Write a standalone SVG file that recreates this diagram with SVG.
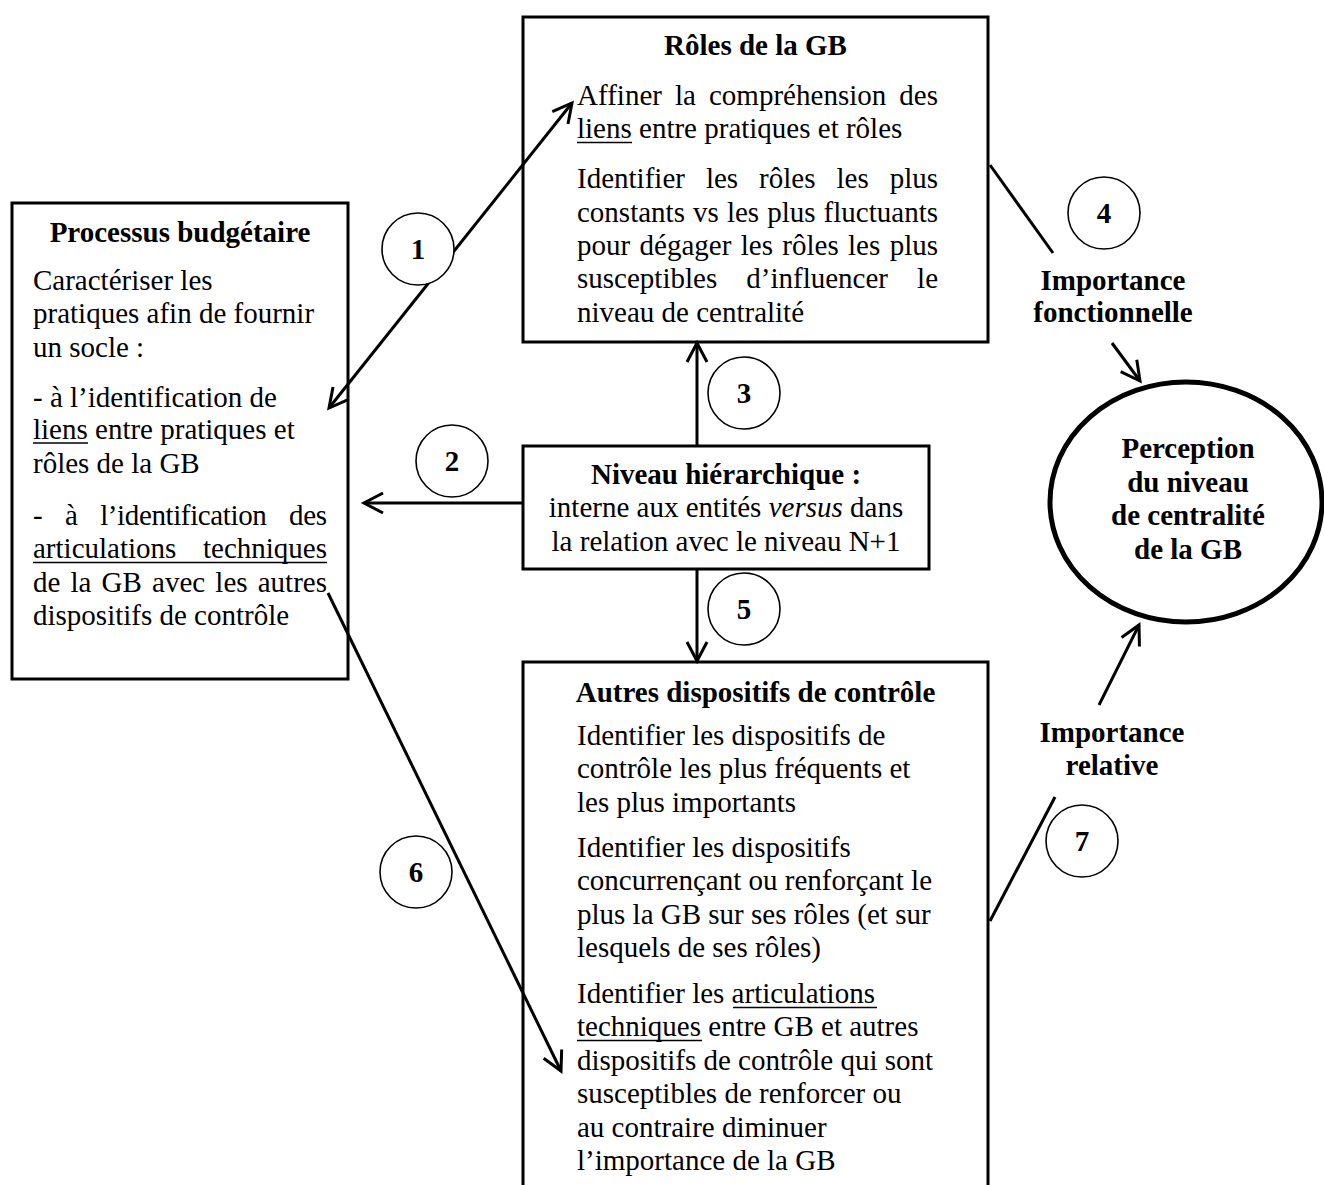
<svg xmlns="http://www.w3.org/2000/svg" width="1324" height="1185" viewBox="0 0 1324 1185">
<style>
.t{font-family:"Liberation Serif","Times New Roman",serif;font-size:29px;fill:#000}
.b{font-weight:bold}
.c{text-anchor:middle}
.box{fill:#fff;stroke:#000;stroke-width:3}
.ell{fill:#fff;stroke:#000;stroke-width:5}
.num{fill:#fff;stroke:#000;stroke-width:1.6}
.ln{stroke:#000;stroke-width:3;fill:none}
.ul{stroke:#000;stroke-width:1.5}
</style>
<defs>
<marker id="ah" markerUnits="userSpaceOnUse" markerWidth="30" markerHeight="30" viewBox="-24 -15 30 30" refX="0" refY="0" orient="auto-start-reverse" overflow="visible">
<path d="M-19,-10 L0,0 L-19,10" fill="none" stroke="#000" stroke-width="3"/>
</marker>
</defs>
<rect width="1324" height="1185" fill="#fff"/>

<g id="node-roles">
<rect class="box" x="523" y="17" width="465" height="325"/>
<text class="t b c" x="755.5" y="55">Rôles de la GB</text>
<text class="t" x="577" y="105" word-spacing="5.7" textLength="361">Affiner la compréhension des</text>
<text class="t" x="577" y="138">liens entre pratiques et rôles</text>
<line class="ul" x1="577" y1="142.5" x2="632" y2="142.5"/>
<text class="t" x="577" y="188" word-spacing="13.7" textLength="361">Identifier les rôles les plus</text>
<text class="t" x="577" y="222" word-spacing="0.8" textLength="361">constants vs les plus fluctuants</text>
<text class="t" x="577" y="255" word-spacing="2.1" textLength="361">pour dégager les rôles les plus</text>
<text class="t" x="577" y="288" word-spacing="21.8" textLength="361">susceptibles d’influencer le</text>
<text class="t" x="577" y="322">niveau de centralité</text>
</g>

<g id="node-processus">
<rect class="box" x="12" y="203" width="336" height="476"/>
<text class="t b c" x="180" y="242">Processus budgétaire</text>
<text class="t" x="33" y="290">Caractériser les</text>
<text class="t" x="33" y="323">pratiques afin de fournir</text>
<text class="t" x="33" y="357">un socle :</text>
<text class="t" x="33" y="407">- à l’identification de</text>
<text class="t" x="33" y="439">liens entre pratiques et</text>
<line class="ul" x1="33" y1="443" x2="88" y2="443"/>
<text class="t" x="33" y="473">rôles de la GB</text>
<text class="t" x="33" y="525" word-spacing="15.8" textLength="294">- à l’identification des</text>
<text class="t" x="33" y="558" word-spacing="19.3" textLength="294">articulations techniques</text>
<line class="ul" x1="33" y1="562.5" x2="327" y2="562.5"/>
<text class="t" x="33" y="592" word-spacing="2.9" textLength="294">de la GB avec les autres</text>
<text class="t" x="33" y="625">dispositifs de contrôle</text>
</g>

<g id="node-niveau">
<rect class="box" x="523" y="446" width="406" height="123"/>
<text class="t b c" x="726" y="484">Niveau hiérarchique :</text>
<text class="t c" x="726" y="517">interne aux entités <tspan font-style="italic">versus</tspan> dans</text>
<text class="t c" x="726" y="551">la relation avec le niveau N+1</text>
</g>

<g id="node-autres">
<rect class="box" x="523" y="662" width="465" height="540"/>
<text class="t b c" x="755.5" y="702">Autres dispositifs de contrôle</text>
<text class="t" x="577" y="745">Identifier les dispositifs de</text>
<text class="t" x="577" y="778">contrôle les plus fréquents et</text>
<text class="t" x="577" y="812">les plus importants</text>
<text class="t" x="577" y="857">Identifier les dispositifs</text>
<text class="t" x="577" y="890">concurrençant ou renforçant le</text>
<text class="t" x="577" y="924">plus la GB sur ses rôles (et sur</text>
<text class="t" x="577" y="957">lesquels de ses rôles)</text>
<text class="t" x="577" y="1003">Identifier les articulations</text>
<line class="ul" x1="733" y1="1007.5" x2="877" y2="1007.5"/>
<text class="t" x="577" y="1036">techniques entre GB et autres</text>
<line class="ul" x1="577" y1="1040.5" x2="702" y2="1040.5"/>
<text class="t" x="577" y="1070">dispositifs de contrôle qui sont</text>
<text class="t" x="577" y="1103">susceptibles de renforcer ou</text>
<text class="t" x="577" y="1137">au contraire diminuer</text>
<text class="t" x="577" y="1170">l’importance de la GB</text>
</g>

<g id="node-perception">
<ellipse class="ell" cx="1186" cy="502" rx="136" ry="120"/>
<text class="t b c" x="1188" y="458">Perception</text>
<text class="t b c" x="1188" y="491.5">du niveau</text>
<text class="t b c" x="1188" y="525">de centralité</text>
<text class="t b c" x="1188" y="558.5">de la GB</text>
</g>

<g id="connectors">
<line class="ln" x1="329" y1="408" x2="572" y2="103" marker-start="url(#ah)" marker-end="url(#ah)"/>
<line class="ln" x1="523" y1="503" x2="364" y2="503" marker-end="url(#ah)"/>
<line class="ln" x1="697" y1="446" x2="697" y2="343" marker-end="url(#ah)"/>
<line class="ln" x1="697" y1="569" x2="697" y2="661" marker-end="url(#ah)"/>
<line class="ln" x1="328" y1="593" x2="561" y2="1071" marker-end="url(#ah)"/>
<line class="ln" x1="990" y1="165" x2="1053" y2="253"/>
<line class="ln" x1="1112" y1="343" x2="1140" y2="381" marker-end="url(#ah)"/>
<line class="ln" x1="990" y1="921" x2="1055" y2="797"/>
<line class="ln" x1="1099" y1="705" x2="1139" y2="625" marker-end="url(#ah)"/>
</g>

<g id="connector-labels">
<text class="t b c" x="1113" y="290">Importance</text>
<text class="t b c" x="1113" y="322">fonctionnelle</text>
<text class="t b c" x="1112" y="742">Importance</text>
<text class="t b c" x="1112" y="775">relative</text>
<g id="label-1"><circle class="num" cx="418" cy="249" r="36"/><text class="t b c" x="418" y="259">1</text></g>
<g id="label-2"><circle class="num" cx="452" cy="461" r="36"/><text class="t b c" x="452" y="471">2</text></g>
<g id="label-3"><circle class="num" cx="744" cy="393" r="36"/><text class="t b c" x="744" y="403">3</text></g>
<g id="label-4"><circle class="num" cx="1104" cy="213" r="36"/><text class="t b c" x="1104" y="223">4</text></g>
<g id="label-5"><circle class="num" cx="744" cy="609" r="36"/><text class="t b c" x="744" y="619">5</text></g>
<g id="label-6"><circle class="num" cx="416" cy="872" r="36"/><text class="t b c" x="416" y="882">6</text></g>
<g id="label-7"><circle class="num" cx="1082" cy="841" r="36"/><text class="t b c" x="1082" y="851">7</text></g>
</g>
</svg>
